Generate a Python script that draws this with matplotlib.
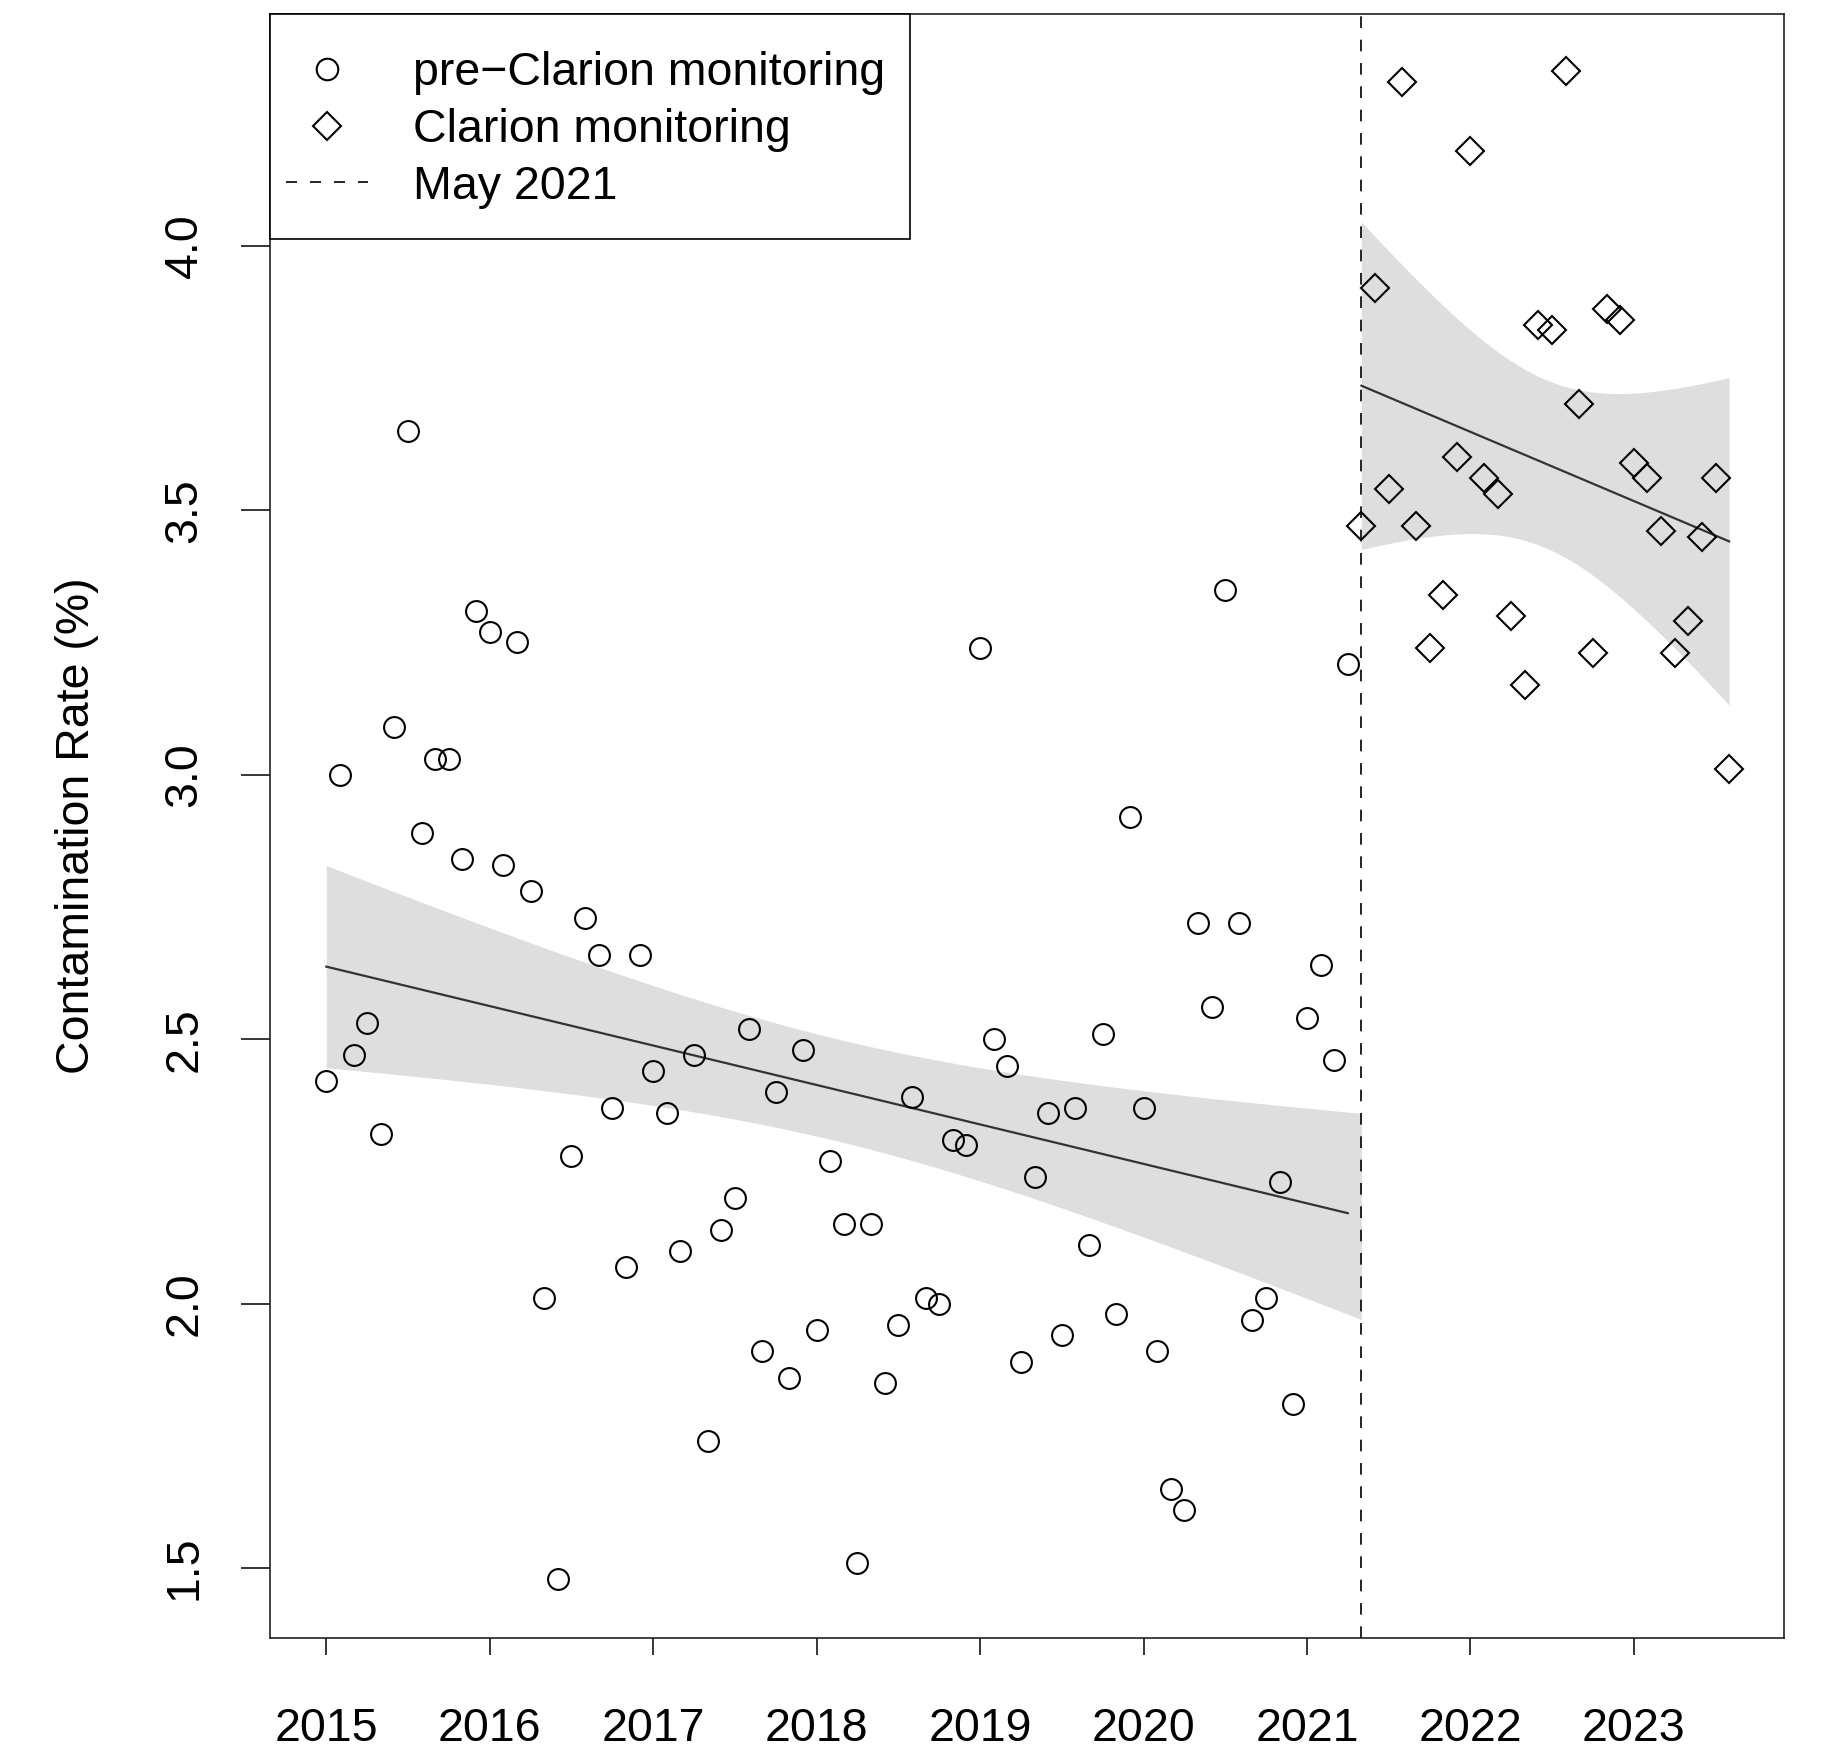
import numpy as np
import matplotlib
matplotlib.use('Agg')
import matplotlib.pyplot as plt
from matplotlib.lines import Line2D
from matplotlib.patches import Rectangle

plt.rcParams['font.family'] = ['Liberation Sans', 'DejaVu Sans']

#==============================================================================
# Monthly contamination rate (%)
# pre-Clarion: Jan 2015 - Apr 2021, Clarion: May 2021 - Aug 2023
#==============================================================================
pre_start = 2015.0
pre_rate = [2.42, 3.00, 2.47, 2.53, 2.32, 3.09, 3.65, 2.89, 3.03, 3.03, 2.84, 3.31,
            3.27, 2.83, 3.25, 2.78, 2.01, 1.48, 2.28, 2.73, 2.66, 2.37, 2.07, 2.66,
            2.44, 2.36, 2.10, 2.47, 1.74, 2.14, 2.20, 2.52, 1.91, 2.40, 1.86, 2.48,
            1.95, 2.27, 2.15, 1.51, 2.15, 1.85, 1.96, 2.39, 2.01, 2.00, 2.31, 2.30,
            3.24, 2.50, 2.45, 1.89, 2.24, 2.36, 1.94, 2.37, 2.11, 2.51, 1.98, 2.92,
            2.37, 1.91, 1.65, 1.61, 2.72, 2.56, 3.35, 2.72, 1.97, 2.01, 2.23, 1.81,
            2.54, 2.64, 2.46, 3.21]

clarion_start = 2021 + 4 / 12.0
clarion_rate = [3.47, 3.92, 3.54, 4.31, 3.47, 3.24, 3.34, 3.60, 4.18, 3.56,
                3.53, 3.30, 3.17, 3.85, 3.84, 4.33, 3.70, 3.23, 3.88, 3.86,
                3.59, 3.56, 3.46, 3.23, 3.29, 3.45, 3.56, 3.01]

year_ticks = [2015, 2016, 2017, 2018, 2019, 2020, 2021, 2022, 2023]
y_ticks = [1.5, 2.0, 2.5, 3.0, 3.5, 4.0]
cutoff = 2021 + 4 / 12.0   # May 2021

# t quantile (0.975) for the pooled segmented model, df = 104 - 4
t_crit = 1.984

#==============================================================================
def ols(x, y):
    xm = x.mean()
    sxx = np.sum((x - xm) ** 2)
    b1 = np.sum((x - xm) * (y - y.mean())) / sxx
    b0 = y.mean() - b1 * xm
    sse = np.sum((y - (b0 + b1 * x)) ** 2)
    return b0, b1, xm, sxx, sse

def band(fitres, n, s, xs):
    # fitted mean with 95% confidence band (pooled residual variance)
    b0, b1, xm, sxx, sse = fitres
    fit = b0 + b1 * xs
    se = s * np.sqrt(1.0 / n + (xs - xm) ** 2 / sxx)
    return fit, fit - t_crit * se, fit + t_crit * se
#==============================================================================

x_pre = pre_start + np.arange(len(pre_rate)) / 12.0
y_pre = np.array(pre_rate)
x_cl = clarion_start + np.arange(len(clarion_rate)) / 12.0
y_cl = np.array(clarion_rate)

f_pre = ols(x_pre, y_pre)
f_cl = ols(x_cl, y_cl)
s_pool = np.sqrt((f_pre[4] + f_cl[4]) / (len(x_pre) + len(x_cl) - 4))

fig = plt.figure(figsize=(18.27, 17.55), dpi=100)
ax = fig.add_axes([0.148, 0.0667, 0.8283, 0.9253])

band_col = '#DEDEDE'
line_col = '#333333'

# pre-Clarion fit
xs = np.linspace(x_pre[0], cutoff, 200)
fit, lo, hi = band(f_pre, len(x_pre), s_pool, xs)
ax.fill_between(xs, lo, hi, color=band_col, lw=0, zorder=1)
xl = np.array([x_pre[0], x_pre[-1]])
fl, _, _ = band(f_pre, len(x_pre), s_pool, xl)
ax.plot(xl, fl, color=line_col, lw=1.6, zorder=2)

# Clarion fit
xs = np.linspace(x_cl[0], x_cl[-1], 200)
fit, lo, hi = band(f_cl, len(x_cl), s_pool, xs)
ax.fill_between(xs, lo, hi, color=band_col, lw=0, zorder=1)
ax.plot(xs, fit, color=line_col, lw=1.6, zorder=2)

# points
ax.plot(x_pre, y_pre, ls='none', marker='o', ms=15, mfc='none', mec='black', mew=1.5, zorder=3)
ax.plot(x_cl, y_cl, ls='none', marker='D', ms=14, mfc='none', mec='black', mew=1.5, zorder=3)

ax.axvline(cutoff, color='black', lw=1.2, ls=(0, (7, 7)), zorder=2)

ax.set_xlim(2014.658, 2023.917)
ax.set_ylim(1.368, 4.438)
ax.set_xticks(year_ticks)
ax.set_xticklabels([str(y) for y in year_ticks], fontsize=33.5)
ax.set_yticks(y_ticks)
ax.set_yticklabels(['%.1f' % v for v in y_ticks], fontsize=33.5, rotation=90, va='center')
ax.tick_params(axis='x', length=12, width=1.1, pad=37.5, colors='black')
ax.tick_params(axis='y', length=21, width=1.1, pad=25, colors='black')
ax.set_ylabel('Contamination Rate (%)', fontsize=33.5, labelpad=46)
for sp in ax.spines.values():
    sp.set_linewidth(1.2)
    sp.set_color('#222222')

# legend box (R style, square corner at the axes corner)
ax.add_patch(Rectangle((0, 0.8615), 0.4227, 0.1385, transform=ax.transAxes,
                       facecolor='white', edgecolor='black', lw=1.2, zorder=4, clip_on=False))

handles = [Line2D([], [], ls='none', marker='o', ms=15.5, mfc='none', mec='black', mew=1.5),
           Line2D([], [], ls='none', marker='D', ms=14.5, mfc='none', mec='black', mew=1.5),
           Line2D([], [], color='black', lw=1.2, ls=(0, (6.6, 7.8)))]
labels = ['pre\u2212Clarion monitoring', 'Clarion monitoring', 'May 2021']
leg = ax.legend(handles, labels, loc='upper left', bbox_to_anchor=(0.0104, 0.977),
                borderaxespad=0, borderpad=0, fontsize=33.5, frameon=False,
                handlelength=1.76, handletextpad=0.97, labelspacing=0.27)
leg.set_zorder(5)

fig.savefig('out.png', dpi=100)
